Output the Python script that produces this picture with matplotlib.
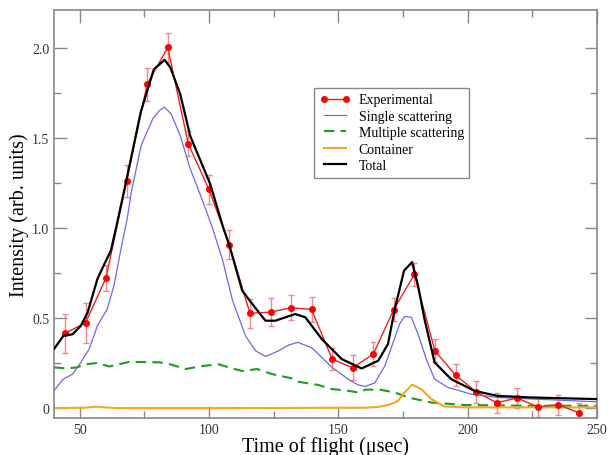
import matplotlib.pyplot as plt
from matplotlib.ticker import MultipleLocator

plt.rcParams["font.family"] = ["Liberation Serif", "DejaVu Serif"]

# experimental points
exp_x = [44.3, 52.2, 60.1, 68.1, 76.0, 84.0, 91.9, 99.9, 107.8, 115.8,
         123.8, 131.7, 139.6, 147.6, 155.5, 163.5, 171.4, 179.4, 187.3,
         195.3, 203.2, 211.2, 219.1, 227.1, 235.0, 243.0]
exp_y = [0.415, 0.474, 0.722, 1.261, 1.796, 2.002, 1.468, 1.215, 0.906, 0.526,
         0.533, 0.557, 0.548, 0.272, 0.224, 0.300, 0.546, 0.743, 0.319,
         0.183, 0.091, 0.030, 0.056, 0.007, 0.019, -0.026]
exp_err = [0.11, 0.11, 0.07, 0.09, 0.09, 0.08, 0.07, 0.08, 0.08, 0.08,
           0.08, 0.07, 0.07, 0.06, 0.07, 0.065, 0.065, 0.065, 0.065,
           0.06, 0.06, 0.055, 0.055, 0.055, 0.055, 0.055]

# single scattering
single_x = [40, 43.6, 47.2, 50.4, 53.6, 56.8, 60.6, 63.2, 66.4, 68.3, 69.9,
            73.7, 78.2, 80.8, 82.7, 85.3, 88.8, 92.7, 97.2, 101.3, 105.1,
            109.0, 114.1, 118.0, 121.8, 126.9, 130.8, 134.3, 139.7, 147.4,
            153.8, 157.5, 160.3, 164.1, 168.0, 171.2, 173.7, 175.6, 178.2,
            180.8, 184.0, 187.2, 192.3, 201.3, 211.5, 250]
single_y = [0.096, 0.161, 0.189, 0.254, 0.328, 0.457, 0.55, 0.68, 0.92, 1.05,
            1.198, 1.457, 1.606, 1.652, 1.67, 1.633, 1.513, 1.328, 1.161, 1.0,
            0.828, 0.60, 0.40, 0.318, 0.287, 0.318, 0.35, 0.365, 0.335, 0.228,
            0.16, 0.13, 0.12, 0.14, 0.235, 0.365, 0.467, 0.509, 0.504, 0.411,
            0.272, 0.161, 0.115, 0.078, 0.059, 0.035]

# multiple scattering
multi_x = [40, 44.9, 48.8, 52.6, 56.4, 61.5, 69.2, 80.8, 84.7, 91.0, 96.2,
           103.5, 109.0, 112.8, 116.7, 118.5, 124.3, 132.0, 134.6, 142.3,
           147.4, 153.8, 157.7, 160.3, 165.4, 171.8, 177.0, 186.0, 198.7,
           224.3, 250]
multi_y = [0.226, 0.22, 0.226, 0.244, 0.25, 0.231, 0.257, 0.254, 0.244,
           0.217, 0.231, 0.244, 0.22, 0.206, 0.213, 0.217, 0.189, 0.165,
           0.146, 0.128, 0.106, 0.096, 0.087, 0.102, 0.104, 0.087, 0.059,
           0.031, 0.017, 0.013, 0.013]

# container
cont_x = [40, 52, 56, 60, 64, 100, 160, 165, 168, 171, 173.1, 175.6, 178.5,
          182, 186, 191, 200, 250]
cont_y = [0.0, 0.002, 0.008, 0.004, 0.0, 0.0, 0.002, 0.006, 0.013, 0.026,
          0.041, 0.087, 0.13, 0.106, 0.05, 0.009, 0.004, 0.004]

# total
total_x = [40, 43.6, 47.2, 50.4, 53.0, 56.8, 59.5, 62.0, 64.0, 68.1, 73.5,
           78.6, 82.8, 85.0, 88.8, 92.7, 100.4, 105.5, 107.9, 112.8, 116.7,
           121.8, 125.6, 133.3, 137.2, 143.6, 151.3, 159.0, 165.4, 169.2,
           171.8, 175.4, 178.5, 180.8, 183.3, 187.2, 193.6, 202.6, 211.5,
           224.3, 250]
total_y = [0.328, 0.40, 0.41, 0.457, 0.53, 0.717, 0.80, 0.874, 1.0, 1.27,
           1.64, 1.88, 1.933, 1.89, 1.744, 1.51, 1.244, 1.0, 0.90, 0.652,
           0.578, 0.485, 0.485, 0.522, 0.504, 0.383, 0.272, 0.22, 0.263,
           0.356, 0.55, 0.763, 0.81, 0.68, 0.494, 0.254, 0.161, 0.096, 0.068,
           0.059, 0.05]

fig = plt.figure(figsize=(6.08, 4.56), dpi=100)
ax = fig.add_axes([0.0888, 0.0811, 0.893, 0.895])

ax.errorbar(exp_x, exp_y, yerr=exp_err, fmt="none", ecolor="#f08a8a",
            elinewidth=1, capsize=2, capthick=1, zorder=2)
ax.plot(exp_x, exp_y, "-o", color="#ee2020", lw=1, ms=4,
        markerfacecolor="red", markeredgecolor="red", label="Experimental",
        zorder=3)
ax.plot(single_x, single_y, color="#6a6ae0", lw=0.9, label="Single scattering")
ax.plot(multi_x, multi_y, "--", color="#1e9a1e", lw=1.5, dashes=(5, 3),
        label="Multiple scattering")
ax.plot(cont_x, cont_y, color="#f5a623", lw=1.5, label="Container")
ax.plot(total_x, total_y, color="black", lw=1.6, label="Total", zorder=4)

ax.set_xlim(40, 250)
ax.set_ylim(-0.055, 2.21)
ax.xaxis.set_major_locator(MultipleLocator(50))
ax.xaxis.set_minor_locator(MultipleLocator(25))
ax.yaxis.set_major_locator(MultipleLocator(0.5))
ax.yaxis.set_minor_locator(MultipleLocator(0.25))
ax.set_yticks([0, 0.5, 1.0, 1.5, 2.0])
ax.set_yticklabels(["0", "0.5", "1.0", "1.5", "2.0"])

ax.tick_params(which="both", direction="in", top=True, right=True,
               color="#888888", labelcolor="#333333", labelsize=10)
ax.tick_params(which="major", length=9, width=1)
ax.tick_params(which="minor", length=5, width=1)
for s in ax.spines.values():
    s.set_color("#888888")
    s.set_linewidth(1.2)

ax.set_xlabel("Time of flight (\u03bcsec)", fontsize=14.5, labelpad=0)
ax.set_ylabel("Intensity (arb. units)", fontsize=14.5, labelpad=2)

leg = ax.legend(loc="upper left", bbox_to_anchor=(0.479, 0.809),
                borderaxespad=0, fontsize=10, numpoints=2, fancybox=False,
                edgecolor="#888888", framealpha=1, labelspacing=0.25,
                handlelength=2.2, handletextpad=0.6, borderpad=0.4)
leg.get_frame().set_linewidth(1)

fig.savefig("out.png", dpi=100)
